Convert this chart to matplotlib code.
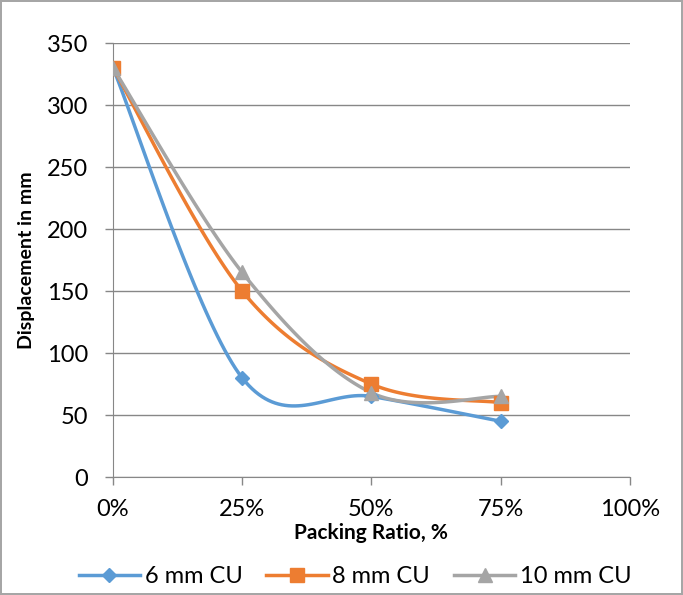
import numpy as np
import matplotlib.pyplot as plt
from matplotlib.lines import Line2D

# data
packing = [0, 25, 50, 75]
disp_6mm = [330, 80, 65, 45]
disp_8mm = [330, 150, 75, 60]
disp_10mm = [330, 165, 68, 65]
labels = ['6 mm CU', '8 mm CU', '10 mm CU']
colors = ['#5B9BD5', '#ED7D31', '#A5A5A5']
markers = ['D', 's', '^']
msizes = [7, 10, 10]

plt.rcParams['font.family'] = ['Lato', 'DejaVu Sans']


# Excel-like smoothing: cubic Bezier with Catmull-Rom control points
def smooth(x, y, n=40):
    p = np.column_stack([x, y]).astype(float)
    pts = np.vstack([p[0], p, p[-1]])
    out = []
    t = np.linspace(0, 1, n)[:, None]
    for i in range(1, len(pts) - 2):
        p0, p1, p2, p3 = pts[i - 1], pts[i], pts[i + 1], pts[i + 2]
        c1 = p1 + (p2 - p0) / 6
        c2 = p2 - (p3 - p1) / 6
        seg = ((1 - t) ** 3) * p1 + 3 * ((1 - t) ** 2) * t * c1 + 3 * (1 - t) * t ** 2 * c2 + t ** 3 * p2
        out.append(seg)
    out = np.vstack(out)
    return out[:, 0], out[:, 1]


fig = plt.figure(figsize=(6.83, 5.95), dpi=100)
fig.patch.set_edgecolor('#A6A6A6')
fig.patch.set_linewidth(1.5)
ax = fig.add_axes([0.1654, 0.1983, 0.7566, 0.7294])

series = [disp_6mm, disp_8mm, disp_10mm]
handles = []
for vals, lab, c, m, ms in zip(series, labels, colors, markers, msizes):
    sx, sy = smooth(packing, vals)
    ax.plot(sx, sy, color=c, lw=2.5, zorder=3)
    ax.plot(packing, vals, ls='none', marker=m, color=c, ms=ms, zorder=4)
    handles.append(Line2D([0], [0], color=c, lw=2.5, marker=m, ms=ms))

ax.set_xlim(0, 100)
ax.set_ylim(0, 350)
ax.set_xticks([0, 25, 50, 75, 100])
ax.set_xticklabels(['0%', '25%', '50%', '75%', '100%'])
ax.set_yticks(range(0, 351, 50))
ax.yaxis.grid(True, color='#878787', lw=1)
ax.set_axisbelow(True)
for s in ['top', 'right']:
    ax.spines[s].set_visible(False)
for s in ['left', 'bottom']:
    ax.spines[s].set_color('#878787')
ax.tick_params(axis='both', colors='#878787', labelcolor='black', labelsize=17, length=6, width=1)
ax.tick_params(axis='x', pad=10)
ax.tick_params(axis='y', pad=12)

ax.set_xlabel('Packing Ratio, %', fontsize=15, fontweight='bold', labelpad=2)
ax.set_ylabel('Displacement in mm', fontsize=14, fontweight='bold', labelpad=8)

fig.legend(handles, labels, loc='lower center', bbox_to_anchor=(0.52, -0.022), ncol=3,
           frameon=False, fontsize=17, handlelength=2.6, columnspacing=1.0, handletextpad=0.2)

fig.savefig('out.png', dpi=100)
